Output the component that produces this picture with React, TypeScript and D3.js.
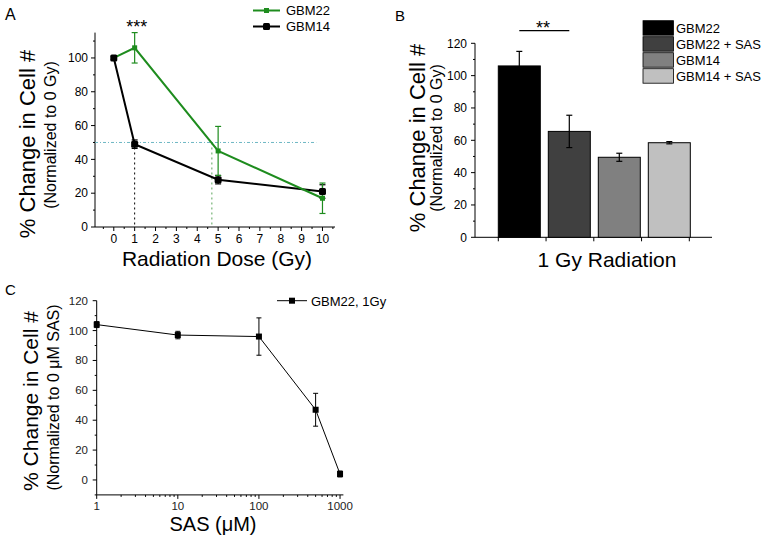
import React from "react";
import * as d3 from "d3";

// ---------- Data ----------
const doseA = [0, 1, 5, 10];
const gbm22A = [100, 106, 45, 17];
const gbm22AErr = [0, 9, 14.5, 9];
const gbm14A = [100, 49, 28, 21];
const gbm14AErr = [1, 2.5, 2.5, 4];
const xTicksA = [0, 1, 2, 3, 4, 5, 6, 7, 8, 9, 10];
const yTicksA = [0, 20, 40, 60, 80, 100];

const barCats = ["GBM22", "GBM22 + SAS", "GBM14", "GBM14 + SAS"];
const barVals = [106, 65.5, 49.5, 58.5];
const barErr = [9, 10, 2.5, 0.7];
const barColors = ["#000000", "#404040", "#808080", "#c0c0c0"];
const yTicksB = [0, 20, 40, 60, 80, 100, 120];

const sasDose = [1, 10, 100, 500, 1000];
const sasVals = [104, 97, 96, 47, 4];
const sasErr = [2, 2.5, 12.5, 11, 2];
const xTicksC = [1, 10, 100, 1000];
const yTicksC = [0, 20, 40, 60, 80, 100, 120];

const FONT = "'Liberation Sans', Arial, Helvetica, sans-serif";
const GREEN = "#1e8c1e";

function range(a: number, b: number, s: number) {
  const r: number[] = [];
  for (let v = a; v <= b + 1e-9; v += s) r.push(+v.toFixed(6));
  return r;
}

export default function App() {
  // Panel A scales
  const xA = d3.scaleLinear().domain([-0.9, 10.6]).range([95, 335]);
  const yA = d3.scaleLinear().domain([0, 115]).range([227, 32.6]);
  const lineA = d3
    .line<[number, number]>()
    .x((d) => xA(d[0]))
    .y((d) => yA(d[1]));
  const g22 = doseA.map((d, i) => [d, gbm22A[i]] as [number, number]);
  const g14 = doseA.map((d, i) => [d, gbm14A[i]] as [number, number]);

  // Panel B scales
  const yB = d3.scaleLinear().domain([0, 120]).range([237.3, 43.3]);
  const xB = d3.scaleBand<string>().domain(barCats).range([498.3, 690.3]).paddingInner(0.16).paddingOuter(0);
  const xBt = d3.scaleLinear().domain([0, 4]).range([498.3, 689.3]);

  // Panel C scales
  const xC = d3.scaleLog().domain([1, 1100]).range([96.7, 343.4]);
  const yC = d3.scaleLinear().domain([-10, 120]).range([494.9, 300.7]);
  const lineC = d3
    .line<[number, number]>()
    .x((d) => xC(d[0]))
    .y((d) => yC(d[1]));
  const cPts = sasDose.map((d, i) => [d, sasVals[i]] as [number, number]);
  const minorLogC: number[] = [];
  [1, 10, 100].forEach((dec) => {
    for (let k = 2; k <= 9; k++) minorLogC.push(dec * k);
  });

  const errBar = (x: number, y0: number, y1: number, color: string, cap = 3, sw = 1.2, key?: any) => (
    <g key={key} stroke={color} strokeWidth={sw}>
      <line x1={x} x2={x} y1={y0} y2={y1} />
      <line x1={x - cap} x2={x + cap} y1={y0} y2={y0} />
      <line x1={x - cap} x2={x + cap} y1={y1} y2={y1} />
    </g>
  );

  return (
    <svg width={764} height={544} style={{ position: "absolute", left: 0, top: 0, background: "#fff" }} fontFamily={FONT}>
      <rect x={0} y={0} width={764} height={544} fill="#fff" />

      {/* ================= Panel A ================= */}
      <text x={5} y={20} fontSize={16}>A</text>
      {/* axes */}
      <line x1={95} x2={95} y1={yA(115)} y2={yA(0)} stroke="#000" strokeWidth={1} />
      <line x1={95} x2={335} y1={yA(0)} y2={yA(0)} stroke="#000" strokeWidth={1} />
      {range(10, 110, 20).map((v) => (
        <line key={"amy" + v} x1={93} x2={95} y1={yA(v)} y2={yA(v)} stroke="#000" />
      ))}
      {yTicksA.map((v) => (
        <g key={"ay" + v}>
          <line x1={91} x2={95} y1={yA(v)} y2={yA(v)} stroke="#000" />
          <text x={88} y={yA(v)} dy="0.35em" fontSize={12} textAnchor="end">{v}</text>
        </g>
      ))}
      {range(-0.5, 10.5, 1).map((v) => (
        <line key={"amx" + v} x1={xA(v)} x2={xA(v)} y1={yA(0)} y2={yA(0) + 2} stroke="#000" />
      ))}
      {xTicksA.map((v) => (
        <g key={"ax" + v}>
          <line x1={xA(v)} x2={xA(v)} y1={yA(0)} y2={yA(0) + 4} stroke="#000" />
          <text x={xA(v)} y={242.5} fontSize={12} textAnchor="middle">{v}</text>
        </g>
      ))}
      {/* reference lines */}
      <line x1={95} x2={xA(9.7)} y1={yA(50)} y2={yA(50)} stroke="#6fb8c4" strokeWidth={1} strokeDasharray="3,2,1,2" />
      <line x1={xA(1)} x2={xA(1)} y1={yA(50)} y2={yA(0)} stroke="#000" strokeWidth={1} strokeDasharray="2,3" />
      <line x1={xA(4.7)} x2={xA(4.7)} y1={yA(50)} y2={yA(0)} stroke="#5aa35a" strokeWidth={1} strokeDasharray="2,3" />
      {/* series */}
      <path d={lineA(g14) || ""} fill="none" stroke="#000" strokeWidth={2} />
      <path d={lineA(g22) || ""} fill="none" stroke={GREEN} strokeWidth={2} />
      {g14.map((p, i) => errBar(xA(p[0]), yA(p[1] - gbm14AErr[i]), yA(p[1] + gbm14AErr[i]), "#000", 3, 1.2, "e14" + i))}
      {g22.map((p, i) =>
        gbm22AErr[i] > 0 ? errBar(xA(p[0]), yA(p[1] - gbm22AErr[i]), yA(p[1] + gbm22AErr[i]), GREEN, 3, 1.2, "e22" + i) : null
      )}
      {g14.map((p, i) => (
        <rect key={"m14" + i} x={xA(p[0]) - 3.5} y={yA(p[1]) - 3.5} width={7} height={7} rx={1.5} fill="#000" />
      ))}
      {g22.map((p, i) =>
        i === 0 ? null : <rect key={"m22" + i} x={xA(p[0]) - 2.5} y={yA(p[1]) - 2.5} width={5} height={5} fill={GREEN} />
      )}
      <text x={xA(1) + 2} y={33} fontSize={18} textAnchor="middle">***</text>
      {/* legend A */}
      <line x1={253} x2={280} y1={10.5} y2={10.5} stroke={GREEN} strokeWidth={2} />
      <rect x={264} y={8} width={5} height={5} fill={GREEN} />
      <text x={286} y={15} fontSize={13}>GBM22</text>
      <line x1={253} x2={280} y1={26.5} y2={26.5} stroke="#000" strokeWidth={2} />
      <rect x={263} y={23} width={7} height={7} rx={1.5} fill="#000" />
      <text x={286} y={31} fontSize={13}>GBM14</text>
      {/* titles A */}
      <text transform="translate(35,144) rotate(-90)" fontSize={22} textAnchor="middle">% Change in Cell #</text>
      <text transform="translate(56,135) rotate(-90)" fontSize={16} textAnchor="middle">(Normalized to 0 Gy)</text>
      <text x={217} y={266} fontSize={21} textAnchor="middle">Radiation Dose (Gy)</text>

      {/* ================= Panel B ================= */}
      <text x={395} y={21} fontSize={15}>B</text>
      <line x1={475} x2={475} y1={yB(120)} y2={yB(0)} stroke="#000" />
      <line x1={475} x2={712} y1={yB(0)} y2={yB(0)} stroke="#000" />
      {range(10, 110, 20).map((v) => (
        <line key={"bmy" + v} x1={473} x2={475} y1={yB(v)} y2={yB(v)} stroke="#000" />
      ))}
      {yTicksB.map((v) => (
        <g key={"by" + v}>
          <line x1={471} x2={475} y1={yB(v)} y2={yB(v)} stroke="#000" />
          <text x={467} y={yB(v)} dy="0.35em" fontSize={12} textAnchor="end">{v}</text>
        </g>
      ))}
      {[0, 1, 2, 3, 4].map((v) => (
        <line key={"bx" + v} x1={xBt(v)} x2={xBt(v)} y1={yB(0)} y2={yB(0) + 4} stroke="#000" />
      ))}
      {barCats.map((c, i) => (
        <g key={"bar" + i}>
          <rect x={xB(c)} y={yB(barVals[i])} width={xB.bandwidth()} height={yB(0) - yB(barVals[i])} fill={barColors[i]} stroke="#000" strokeWidth={1} />
          {errBar((xB(c) as number) + xB.bandwidth() / 2, yB(barVals[i] - barErr[i]), yB(barVals[i] + barErr[i]), "#000", 3, 1.2)}
        </g>
      ))}
      {/* significance */}
      <line
        x1={(xB(barCats[0]) as number) + xB.bandwidth() / 2}
        x2={(xB(barCats[1]) as number) + xB.bandwidth() / 2}
        y1={30.7}
        y2={30.7}
        stroke="#000"
        strokeWidth={1.2}
      />
      <text x={543} y={34} fontSize={18} textAnchor="middle">**</text>
      {/* legend B */}
      {barCats.map((c, i) => (
        <g key={"lb" + i}>
          <rect x={643} y={20.7 + i * 16} width={30.5} height={14.5} fill={barColors[i]} stroke="#000" strokeWidth={0.8} />
          <text x={676} y={32.5 + i * 16} fontSize={13}>{c}</text>
        </g>
      ))}
      <text transform="translate(425,138) rotate(-90)" fontSize={22} textAnchor="middle">% Change in Cell #</text>
      <text transform="translate(442,138) rotate(-90)" fontSize={16} textAnchor="middle">(Normalized to 0 Gy)</text>
      <text x={607} y={267} fontSize={21} textAnchor="middle">1 Gy Radiation</text>

      {/* ================= Panel C ================= */}
      <text x={5} y={295} fontSize={15}>C</text>
      <line x1={96.7} x2={96.7} y1={yC(120)} y2={yC(-10)} stroke="#000" />
      <line x1={96.7} x2={343.4} y1={yC(-10)} y2={yC(-10)} stroke="#000" />
      {range(-10, 110, 20).map((v) => (
        <line key={"cmy" + v} x1={94.7} x2={96.7} y1={yC(v)} y2={yC(v)} stroke="#000" />
      ))}
      {yTicksC.map((v) => (
        <g key={"cy" + v}>
          <line x1={92.7} x2={96.7} y1={yC(v)} y2={yC(v)} stroke="#000" />
          <text x={88} y={yC(v)} dy="0.35em" fontSize={11.5} textAnchor="end" fill="#222">{v}</text>
        </g>
      ))}
      {minorLogC.map((v) => (
        <line key={"cmx" + v} x1={xC(v)} x2={xC(v)} y1={yC(-10)} y2={yC(-10) + 2} stroke="#000" />
      ))}
      {xTicksC.map((v) => (
        <g key={"cx" + v}>
          <line x1={xC(v)} x2={xC(v)} y1={yC(-10)} y2={yC(-10) + 4} stroke="#000" />
          <text x={xC(v)} y={510} fontSize={11.5} textAnchor="middle" fill="#222">{v}</text>
        </g>
      ))}
      <path d={lineC(cPts) || ""} fill="none" stroke="#000" strokeWidth={1} />
      {cPts.map((p, i) => errBar(xC(p[0]), yC(p[1] - sasErr[i]), yC(p[1] + sasErr[i]), "#000", 2.5, 1, "ec" + i))}
      {cPts.map((p, i) => (
        <rect key={"mc" + i} x={xC(p[0]) - 3} y={yC(p[1]) - 3} width={6} height={6} fill="#000" />
      ))}
      {/* legend C */}
      <line x1={277} x2={307} y1={300.7} y2={300.7} stroke="#000" />
      <rect x={289} y={297.7} width={6} height={6} fill="#000" />
      <text x={311} y={305.5} fontSize={13}>GBM22, 1Gy</text>
      <text transform="translate(38,401) rotate(-90)" fontSize={21} textAnchor="middle">% Change in Cell #</text>
      <text transform="translate(58.5,397.5) rotate(-90)" fontSize={16} textAnchor="middle">(Normalized to 0 μM SAS)</text>
      <text x={213} y={531} fontSize={20} textAnchor="middle">SAS (μM)</text>
    </svg>
  );
}
